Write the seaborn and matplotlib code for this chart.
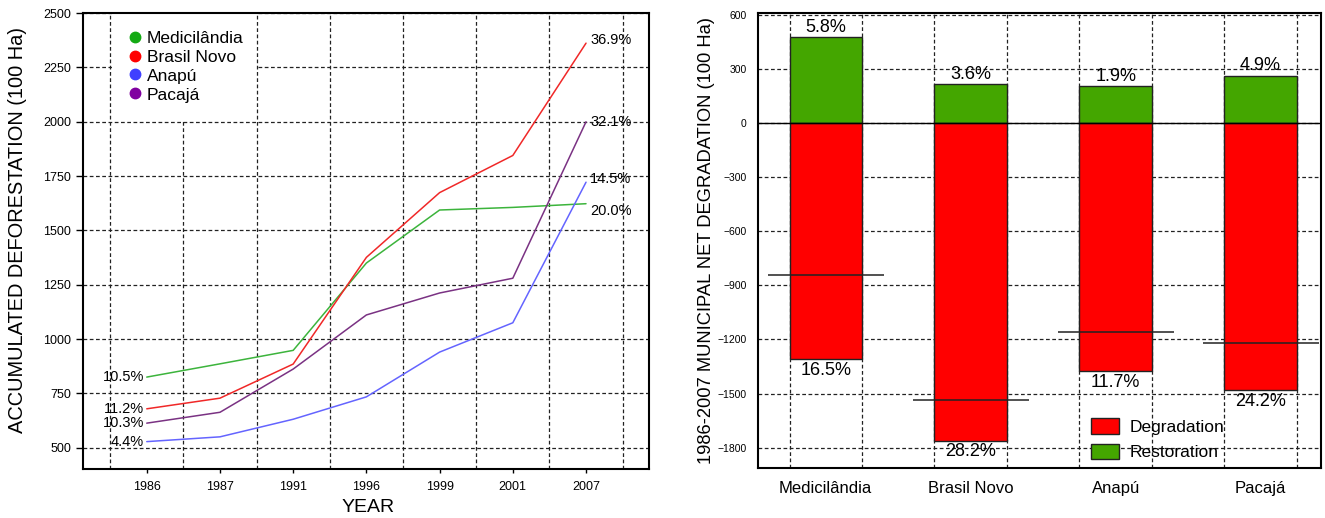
import numpy as np
import pandas as pd
import matplotlib
matplotlib.use('Agg')
import matplotlib.pyplot as plt
from matplotlib.lines import Line2D
from matplotlib.patches import Patch, Rectangle
import seaborn as sns

# data
years = ['1986', '1987', '1991', '1996', '1999', '2001', '2007']
municipios = ['Medicilândia', 'Brasil Novo', 'Anapú', 'Pacajá']

medicilandia = [825, 886, 948, 1350, 1594, 1606, 1623]
brasil_novo = [679, 728, 885, 1376, 1674, 1845, 2362]
anapu = [528, 550, 631, 734, 940, 1075, 1722]
pacaja = [613, 663, 862, 1111, 1212, 1280, 2000]

pct_1986 = ['10.5%', '11.2%', '4.4%', '10.3%']
pct_2007 = ['20.0%', '36.9%', '14.5%', '32.1%']

restoration = [478, 217, 206, 263]
degradation = [-1310, -1761, -1377, -1483]
net = [-845, -1535, -1160, -1222]
pct_restoration = ['5.8%', '3.6%', '1.9%', '4.9%']
pct_degradation = ['16.5%', '28.2%', '11.7%', '24.2%']

line_colors = ['#3cb43c', '#f02828', '#6464ff', '#7a3283']
marker_colors = ['#14aa14', '#ff0000', '#4040ff', '#8000a0']
red = '#ff0000'
green = '#44a600'

sns.set_style('white')
plt.rcParams['font.family'] = ['Liberation Sans', 'DejaVu Sans']
plt.rcParams.update({'text.color': 'black', 'axes.labelcolor': 'black',
                     'xtick.color': 'black', 'ytick.color': 'black'})
narrow = ['Liberation Sans Narrow', 'Liberation Sans', 'DejaVu Sans']
grid_kw = dict(color='#222222', linestyle=(0, (3, 2)), linewidth=0.9)

df = pd.DataFrame({
    'year': years * 4,
    'area': medicilandia + brasil_novo + anapu + pacaja,
    'mun': np.repeat(municipios, len(years)),
})

fig = plt.figure(figsize=(13.25, 5.18), dpi=100)
ax1 = fig.add_axes([0.0623, 0.0946, 0.4275, 0.880])
ax2 = fig.add_axes([0.5719, 0.0965, 0.4251, 0.8784])

# ---------- left: accumulated deforestation ----------
sns.lineplot(data=df, x='year', y='area', hue='mun', hue_order=municipios,
             palette=line_colors, linewidth=1.1, legend=False, ax=ax1, zorder=3)

ax1.set_xlim(-0.877, 6.86)
ax1.set_ylim(402, 2500)
ax1.set_yticks(np.arange(500, 2501, 250))
ax1.set_xticks(range(len(years)))
ax1.set_xticklabels(years)
ax1.set_xticks(np.arange(len(years) + 1) - 0.5, minor=True)
ax1.set_axisbelow(True)
ax1.grid(False)
ax1.yaxis.grid(True, which='major', **grid_kw)
ax1.xaxis.grid(True, which='minor', **grid_kw)
ax1.tick_params(axis='y', which='major', length=5, width=1, pad=3, direction='out', left=True)
ax1.tick_params(axis='x', which='major', length=3, width=1, pad=6, direction='out', bottom=True)
ax1.tick_params(which='minor', length=0)
for lab in ax1.get_xticklabels() + ax1.get_yticklabels():
    lab.set_family(narrow)
    lab.set_fontsize(9)

series = [medicilandia, brasil_novo, anapu, pacaja]
end_dy = [-5, 2, 2, 0]
for vals, p0, p1, dy in zip(series, pct_1986, pct_2007, end_dy):
    ax1.annotate(p0, (0, vals[0]), xytext=(-2, 0), textcoords='offset points',
                 ha='right', va='center', fontsize=10.5)
    ax1.annotate(p1, (len(years) - 1, vals[-1]), xytext=(3, dy), textcoords='offset points',
                 ha='left', va='center', fontsize=10.5)

# white box behind the legend
ax1.add_patch(Rectangle((0.052, 0.763), 0.2545, 0.24, transform=ax1.transAxes,
                        facecolor='white', edgecolor='none', zorder=1))
handles = [Line2D([], [], marker='o', linestyle='', markersize=7.5,
                  markerfacecolor=c, markeredgecolor=c) for c in marker_colors]
ax1.legend(handles, municipios, loc='upper left', bbox_to_anchor=(0.080, 0.962),
           frameon=False, fontsize=12.5, borderpad=0, borderaxespad=0,
           handlelength=0.8, handletextpad=0.3, labelspacing=0.22)

ax1.set_xlabel('YEAR', fontsize=14)
ax1.xaxis.set_label_coords(0.504, -0.065)
ax1.set_ylabel('ACCUMULATED DEFORESTATION (100 Ha)', fontsize=14.4)
ax1.yaxis.set_label_coords(-0.098, 0.524)

# ---------- right: net degradation ----------
sns.barplot(x=municipios, y=restoration, color=green, width=0.5,
            edgecolor='#222222', linewidth=1, saturation=1, ax=ax2, zorder=2)
sns.barplot(x=municipios, y=degradation, color=red, width=0.5,
            edgecolor='#222222', linewidth=1, saturation=1, ax=ax2, zorder=2)

idx = np.arange(len(municipios))
ax2.axhline(0, color='black', linewidth=1, zorder=3)
ax2.hlines(net, idx - 0.4, idx + 0.4, color='#222222', linewidth=1.1, zorder=4)

for i in idx:
    ax2.annotate(pct_restoration[i], (i, restoration[i]), xytext=(0, 1),
                 textcoords='offset points', ha='center', va='bottom', fontsize=13)
    ax2.annotate(pct_degradation[i], (i, degradation[i]), xytext=(0, -2),
                 textcoords='offset points', ha='center', va='top', fontsize=13)

ax2.set_xlim(-0.469, 3.417)
ax2.set_ylim(-1913, 611)
ax2.set_yticks(np.arange(-1800, 601, 300))
ax2.set_xticks(np.concatenate([idx - 0.25, idx + 0.25]), minor=True)
ax2.set_axisbelow(True)
ax2.grid(False)
ax2.yaxis.grid(True, which='major', **grid_kw)
ax2.xaxis.grid(True, which='minor', **grid_kw)
ax2.tick_params(axis='y', length=0, pad=8)
ax2.tick_params(axis='x', which='major', length=0, pad=9, labelsize=12)
ax2.tick_params(which='minor', length=0)
for lab in ax2.get_yticklabels():
    lab.set_family(narrow)
    lab.set_fontsize(7.5)

leg_handles = [Patch(facecolor=red, edgecolor='#222222', linewidth=1),
               Patch(facecolor=green, edgecolor='#222222', linewidth=1)]
ax2.legend(leg_handles, ['Degradation', 'Restoration'], loc='upper left',
           bbox_to_anchor=(0.5917, 0.109), frameon=False, fontsize=12.5,
           borderpad=0, borderaxespad=0, handlelength=1.6, handleheight=0.98,
           handletextpad=0.63, labelspacing=0.49)

ax2.set_xlabel('')
ax2.set_ylabel('1986-2007 MUNICIPAL NET DEGRADATION (100 Ha)', fontsize=13.2)
ax2.yaxis.set_label_coords(-0.076, 0.5)

for ax in (ax1, ax2):
    for s in ax.spines.values():
        s.set_visible(True)
        s.set_color('black')
        s.set_linewidth(1.5)
        s.set_zorder(5)

fig.savefig('out.png', dpi=100)
